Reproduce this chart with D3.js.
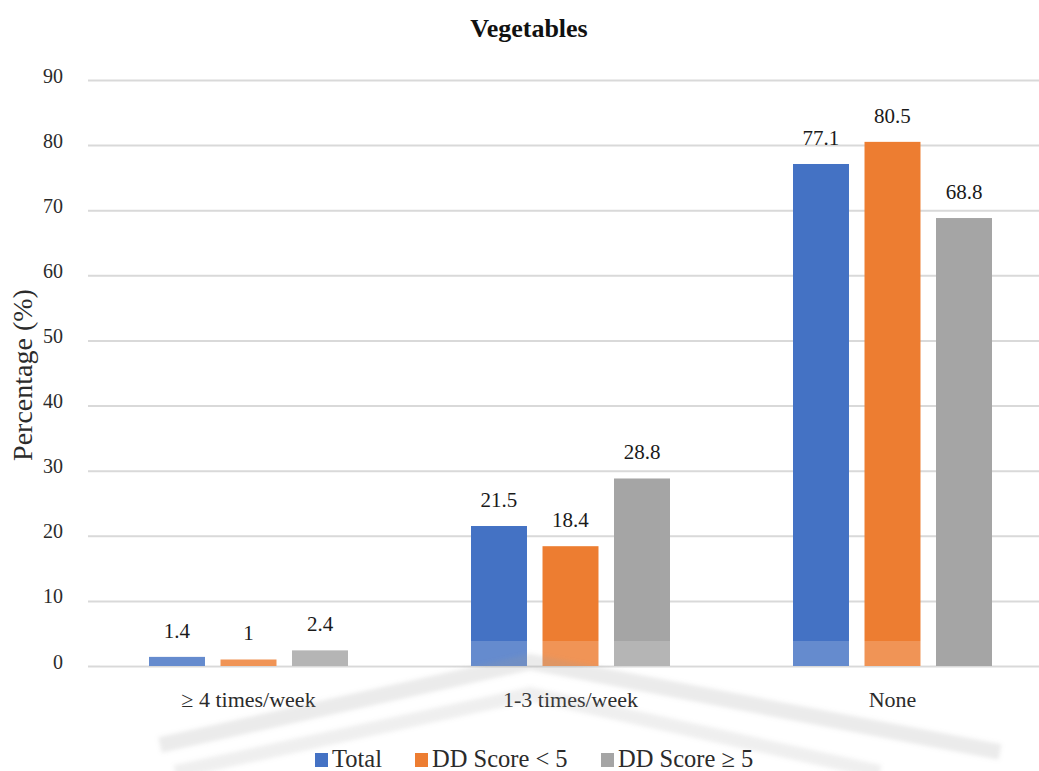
<!DOCTYPE html>
<html>
<head>
<meta charset="utf-8">
<script src="https://cdn.jsdelivr.net/npm/d3@7/dist/d3.min.js"></script>
<style>
  html, body { margin: 0; padding: 0; background: #ffffff; }
  svg { display: block; }
</style>
</head>
<body>
<svg id="chart" width="1039" height="771"></svg>
<script>
// Vegetable intake frequency by dietary diversity group (%)
const categories = ["\u2265 4 times/week", "1-3 times/week", "None"];
const seriesNames = ["Total", "DD Score < 5", "DD Score \u2265 5"];
const totalValues = [1.4, 21.5, 77.1];
const lowDDValues = [1, 18.4, 80.5];
const highDDValues = [2.4, 28.8, 68.8];
const yTicks = [0, 10, 20, 30, 40, 50, 60, 70, 80, 90];
const colors = ["#4472C4", "#ED7D31", "#A5A5A5"];

const FONT = "Liberation Serif";

const seriesValues = [totalValues, lowDDValues, highDDValues];
const rows = categories.map((c, i) => ({
  category: c,
  values: seriesNames.map((s, j) => ({ series: s, index: j, value: seriesValues[j][i] }))
}));

const svg = d3.select("#chart");
const W = 1039;

const x0 = d3.scaleBand()
  .domain(categories)
  .range([87.5, 1053.5])
  .paddingInner(0.382)
  .paddingOuter(0.191);

const x1 = d3.scaleBand()
  .domain(seriesNames)
  .range([0, x0.bandwidth()])
  .paddingInner(0.217)
  .paddingOuter(0);

const y = d3.scaleLinear().domain([0, 90]).range([666, 80]);

// Soft blur for the faded emblem
const defs = svg.append("defs");
defs.append("filter").attr("id", "soft")
  .attr("x", "-10%").attr("y", "-50%").attr("width", "120%").attr("height", "200%")
  .append("feGaussianBlur").attr("stdDeviation", 2);

// Title
svg.append("text")
  .attr("x", 529).attr("y", 37)
  .attr("text-anchor", "middle")
  .attr("font-family", FONT)
  .attr("font-size", 26).attr("font-weight", "bold")
  .attr("fill", "#111")
  .text("Vegetables");

// Horizontal gridlines and y tick labels
const yAxis = d3.axisLeft(y).tickValues(yTicks).tickSize(-(W - 88)).tickPadding(25);
const gy = svg.append("g").attr("transform", "translate(88,0)").call(yAxis)
  .attr("font-family", FONT).attr("font-size", 20);
gy.select(".domain").remove();
gy.selectAll(".tick line").attr("stroke", "#d9d9d9").attr("stroke-width", 2);
gy.selectAll(".tick text")
  .attr("dy", "0.1em")
  .attr("font-family", FONT)
  .attr("font-size", 20)
  .attr("fill", "#2b2b2b");

// Y axis title
svg.append("text")
  .attr("transform", "translate(32,375) rotate(-90)")
  .attr("text-anchor", "middle")
  .attr("font-family", FONT)
  .attr("font-size", 28)
  .attr("fill", "#2b2b2b")
  .text("Percentage (%)");

// Bars
const groups = svg.append("g").selectAll("g")
  .data(rows).join("g")
  .attr("transform", d => `translate(${x0(d.category)},0)`);

groups.selectAll("rect")
  .data(d => d.values).join("rect")
  .attr("x", d => x1(d.series))
  .attr("width", x1.bandwidth())
  .attr("y", d => y(d.value))
  .attr("height", d => y(0) - y(d.value))
  .attr("fill", d => colors[d.index]);

// Value labels
groups.selectAll("text")
  .data(d => d.values).join("text")
  .attr("x", d => x1(d.series) + x1.bandwidth() / 2)
  .attr("y", d => y(d.value) - 19)
  .attr("text-anchor", "middle")
  .attr("font-family", FONT)
  .attr("font-size", 21)
  .attr("fill", "#1a1a1a")
  .text(d => d.value);

// Category labels
const xAxis = d3.axisBottom(x0).tickSize(0).tickPadding(0);
const gx = svg.append("g").attr("transform", `translate(0,${y(0)})`).call(xAxis)
  .attr("font-family", FONT).attr("font-size", 22);
gx.select(".domain").remove();
gx.selectAll(".tick text")
  .attr("dy", 41)
  .attr("font-family", FONT)
  .attr("font-size", 22)
  .attr("fill", "#2b2b2b");

// Faded emblem across the lower part of the figure
const wm = svg.append("g").attr("fill", "none");
wm.append("rect")
  .attr("x", 100).attr("y", 641).attr("width", 830).attr("height", 25)
  .attr("fill", "#ffffff").attr("opacity", 0.18);
const bands = wm.append("g").attr("filter", "url(#soft)");
bands.append("polyline")
  .attr("points", "160,745 530,662 1000,752")
  .attr("stroke", "#9a9a9a").attr("stroke-width", 16).attr("opacity", 0.2);
bands.append("polyline")
  .attr("points", "175,772 530,694 880,772")
  .attr("stroke", "#9a9a9a").attr("stroke-width", 14).attr("opacity", 0.16);

// Legend
const legendItems = [
  { name: seriesNames[0], color: colors[0], x: 315 },
  { name: seriesNames[1], color: colors[1], x: 415 },
  { name: seriesNames[2], color: colors[2], x: 601 }
];
const lg = svg.append("g").selectAll("g").data(legendItems).join("g")
  .attr("transform", d => `translate(${d.x},0)`);
lg.append("rect")
  .attr("x", 0).attr("y", 753).attr("width", 13).attr("height", 14)
  .attr("fill", d => d.color);
lg.append("text")
  .attr("x", 17).attr("y", 767)
  .attr("font-family", FONT)
  .attr("font-size", 24.5)
  .attr("fill", "#2b2b2b")
  .text(d => d.name);
</script>
</body>
</html>
